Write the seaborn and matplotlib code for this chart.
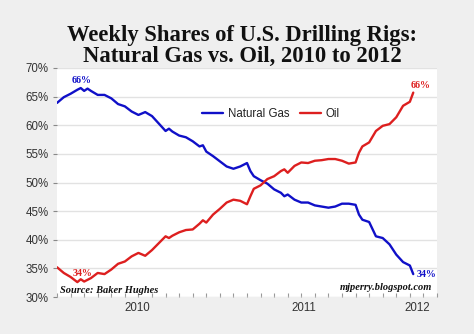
import numpy as np
import pandas as pd
import matplotlib
matplotlib.use("Agg")
import matplotlib.pyplot as plt
import seaborn as sns

# ---- data (week index from start of series, share of rigs in %) ----
weeks = [0, 2, 4, 6, 7, 8, 9, 10, 12, 14, 16, 18, 20, 22, 24, 26, 28, 30, 32, 33,
         34, 36, 38, 40, 42, 43, 44, 46, 48, 50, 52, 54, 56, 57, 58, 60, 62, 64, 66, 67,
         68, 70, 72, 74, 76, 78, 80, 82, 84, 86, 88, 89, 90, 92, 94, 96, 98, 100, 102, 104, 105]
natural_gas = [63.9, 64.9, 65.5, 66.2, 66.5, 66.0, 66.4, 66.0, 65.3, 65.3, 64.7, 63.7, 63.3, 62.4,
               61.8, 62.3, 61.6, 60.3, 59.0, 59.4, 58.9, 58.2, 57.9, 57.2, 56.3, 56.5, 55.4, 54.6,
               53.7, 52.8, 52.4, 52.8, 53.4, 52.0, 51.1, 50.4, 49.8, 48.8, 48.2, 47.6, 47.9, 47.0,
               46.5, 46.5, 46.0, 45.8, 45.6, 45.8, 46.3, 46.3, 46.1, 44.4, 43.5, 43.1, 40.6, 40.3,
               39.2, 37.4, 36.1, 35.5, 34.0]
oil = [35.2, 34.2, 33.5, 32.6, 33.1, 32.7, 33.0, 33.3, 34.2, 34.0, 34.8, 35.8, 36.2, 37.1,
       37.7, 37.2, 38.2, 39.4, 40.6, 40.3, 40.7, 41.3, 41.7, 41.8, 42.8, 43.4, 43.0, 44.4,
       45.4, 46.5, 47.0, 46.8, 46.2, 47.6, 48.9, 49.5, 50.6, 51.1, 52.0, 52.3, 51.7, 52.9,
       53.5, 53.4, 53.8, 53.9, 54.1, 54.1, 53.8, 53.3, 53.5, 55.2, 56.3, 57.0, 59.0, 59.9,
       60.2, 61.4, 63.4, 64.1, 65.7]
series_names = ["Natural Gas", "Oil"]
year_labels = ["2010", "2011", "2012"]
year_positions = [23.6, 72.6, 106.2]
y_ticks = [30, 35, 40, 45, 50, 55, 60, 65, 70]

df = pd.concat([
    pd.DataFrame({"week": weeks, "share": natural_gas, "series": series_names[0]}),
    pd.DataFrame({"week": weeks, "share": oil, "series": series_names[1]}),
])

sns.set_style("whitegrid")
plt.rcParams["font.family"] = ["Liberation Sans", "DejaVu Sans"]

BG = "#efefef"
BLUE = "#1010c8"
RED = "#dd1f1f"

fig = plt.figure(figsize=(4.74, 3.34), dpi=100, facecolor=BG)
ax = fig.add_axes([57 / 474, 1 - 297 / 334, 380 / 474, 229 / 334])
ax.set_facecolor("white")

sns.lineplot(data=df, x="week", y="share", hue="series",
             palette={"Natural Gas": BLUE, "Oil": RED}, linewidth=1.7, ax=ax)

ax.set_xlim(0, 112)
ax.set_ylim(30, 70)
ax.set_yticks(y_ticks)
ax.set_yticklabels([f"{v}%" for v in y_ticks])
ax.set_xticks(year_positions)
ax.set_xticklabels(year_labels)
ax.set_xticks(np.arange(0, 113, 4), minor=True)
ax.set_xlabel("")
ax.set_ylabel("")

ax.grid(axis="y", color="#e2e2e2", linewidth=1.0)
ax.grid(axis="x", visible=False)
ax.grid(axis="x", which="minor", visible=False)
for s in ax.spines.values():
    s.set_visible(False)

ax.tick_params(axis="y", which="major", left=True, length=3, width=0.8, color="#888888",
               direction="out", pad=3, labelsize=8.3, labelcolor="#333333")
ax.tick_params(axis="x", which="major", bottom=False, length=0, pad=3.5,
               labelsize=8.3, labelcolor="#333333")
ax.tick_params(axis="x", which="minor", bottom=True, length=3, width=0.8,
               color="#999999", direction="in")

sns.move_legend(ax, "center", bbox_to_anchor=(0.563, 0.80), ncol=2, frameon=False,
                title=None, fontsize=8.3, handlelength=1.8, columnspacing=0.9,
                handletextpad=0.45)
for t in ax.get_legend().get_texts():
    t.set_color("#222222")

serif = ["Liberation Serif", "DejaVu Serif"]
fig.text(0.511, 0.862, "Weekly Shares of U.S. Drilling Rigs:\nNatural Gas vs. Oil, 2010 to 2012",
         ha="center", va="center", fontsize=16.3, fontweight="bold", family=serif,
         color="#111111", linespacing=0.98)

ann = dict(fontsize=7.2, fontweight="bold", family=serif)
ax.text(7.2, 67.8, "66%", color=BLUE, ha="center", va="center", **ann)
ax.text(7.4, 34.1, "34%", color=RED, ha="center", va="center", **ann)
ax.text(107.2, 67.0, "66%", color=RED, ha="center", va="center", **ann)
ax.text(108.8, 33.9, "34%", color=BLUE, ha="center", va="center", **ann)

src = dict(fontsize=7.5, fontweight="bold", style="italic", family=serif, color="#111111")
ax.text(0.8, 31.1, "Source: Baker Hughes", ha="left", va="center", **src)
ax.text(110.5, 31.7, "mjperry.blogspot.com", ha="right", va="center", **src)

fig.savefig("out.png", dpi=100, facecolor=BG)
